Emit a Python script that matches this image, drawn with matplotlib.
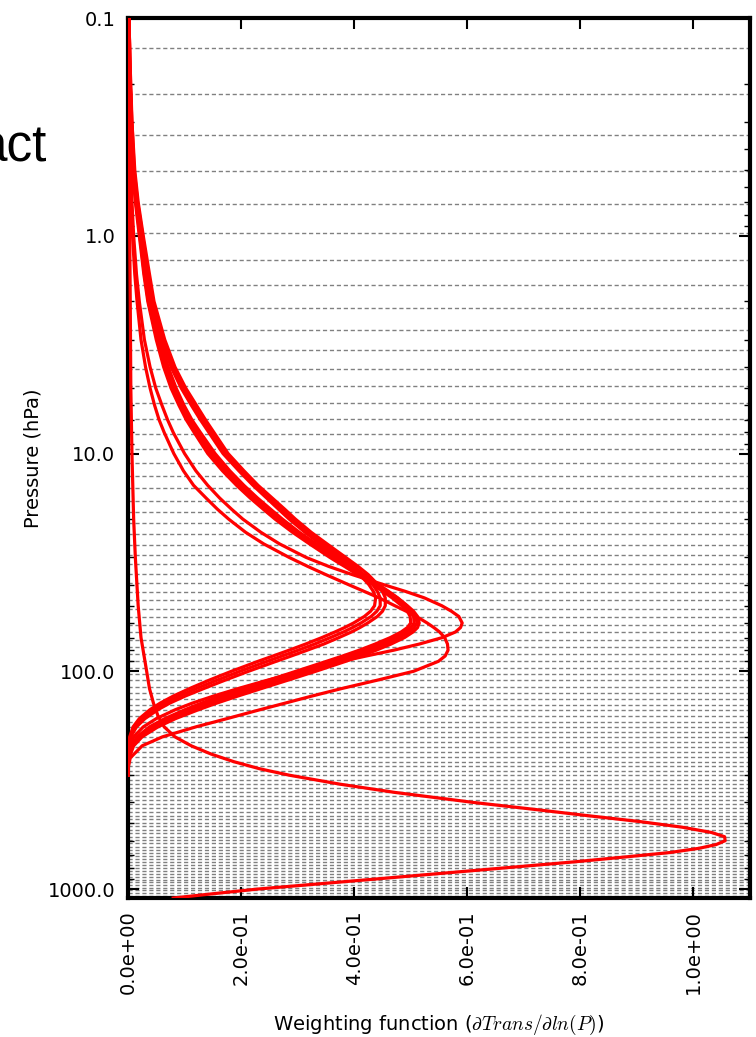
import numpy as np
import matplotlib
matplotlib.use('Agg')
import matplotlib.pyplot as plt
from matplotlib.ticker import NullFormatter

# model pressure levels (hPa) drawn as dashed lines
levels = [0.1370, 0.2244, 0.3454, 0.5064, 0.7140, 0.9753, 1.2972, 1.6872, 2.1526, 2.7009,
          3.3398, 4.0770, 4.9204, 5.8776, 6.9567, 8.1655, 9.5119, 11.0038, 12.6492, 14.4559,
          16.4318, 18.5847, 20.9224, 23.4526, 26.1829, 29.1210, 32.2744, 35.6505, 39.2566,
          43.1001, 47.1882, 51.5278, 56.1260, 60.9895, 66.1253, 71.5398, 77.2396, 83.2310,
          89.5204, 96.1138, 103.0172, 110.2366, 117.7775, 125.6456, 133.8462, 142.3848,
          151.2664, 160.4959, 170.0784, 180.0183, 190.3203, 200.9887, 212.0277, 223.4415,
          235.2338, 247.4085, 259.9691, 272.9191, 286.2617, 300.0000, 314.1369, 328.6753,
          343.6176, 358.9665, 374.7241, 390.8926, 407.4738, 424.4698, 441.8819, 459.7118,
          477.9607, 496.6298, 515.7200, 535.2322, 555.1669, 575.5248, 596.3062, 617.5112,
          639.1398, 661.1920, 683.6673, 706.5654, 729.8857, 753.6275, 777.7897, 802.3714,
          827.3713, 852.7880, 878.6201, 904.8659, 931.5236, 958.5911, 986.0666, 1013.9476,
          1042.2319, 1070.9170]

# pressures for the upper-level channels
p_upper = [0.1, 0.15, 0.2, 0.3, 0.5, 0.7, 1, 1.5, 2, 3, 4, 5, 6, 7, 8, 10, 12, 14, 16, 18,
           20, 23, 26, 30, 33, 36, 40, 43, 46, 50, 53, 56, 60, 63, 66, 70, 75, 80, 85, 90,
           100, 110, 120, 130, 140, 150, 165, 180, 200, 220, 250, 280, 300]

wf_b1 = [0.002, 0.003, 0.004, 0.006, 0.010, 0.016, 0.025, 0.034, 0.042, 0.059, 0.076, 0.094,
         0.112, 0.128, 0.143, 0.168, 0.196, 0.221, 0.245, 0.266, 0.285, 0.313, 0.340, 0.372,
         0.394, 0.410, 0.426, 0.434, 0.438, 0.436, 0.429, 0.418, 0.399, 0.383, 0.366, 0.343,
         0.314, 0.285, 0.257, 0.230, 0.183, 0.143, 0.109, 0.080, 0.057, 0.039, 0.020, 0.009,
         0.003, 0.001, 0.0, 0.0, 0.0]
wf_b2 = [0.002, 0.003, 0.004, 0.007, 0.011, 0.017, 0.026, 0.036, 0.044, 0.062, 0.079, 0.098,
         0.116, 0.132, 0.147, 0.172, 0.200, 0.225, 0.250, 0.271, 0.290, 0.318, 0.345, 0.378,
         0.400, 0.417, 0.433, 0.441, 0.446, 0.446, 0.440, 0.430, 0.412, 0.397, 0.381, 0.358,
         0.330, 0.301, 0.273, 0.246, 0.198, 0.157, 0.121, 0.090, 0.065, 0.046, 0.025, 0.012,
         0.004, 0.001, 0.0, 0.0, 0.0]
wf_b3 = [0.002, 0.003, 0.005, 0.007, 0.012, 0.018, 0.027, 0.038, 0.046, 0.065, 0.083, 0.102,
         0.121, 0.137, 0.152, 0.177, 0.205, 0.230, 0.255, 0.277, 0.296, 0.324, 0.352, 0.385,
         0.407, 0.425, 0.442, 0.450, 0.455, 0.455, 0.450, 0.441, 0.424, 0.410, 0.395, 0.373,
         0.346, 0.317, 0.289, 0.262, 0.213, 0.171, 0.134, 0.101, 0.074, 0.053, 0.030, 0.015,
         0.005, 0.001, 0.0, 0.0, 0.0]
wf_c1 = [0.002, 0.002, 0.003, 0.005, 0.008, 0.013, 0.020, 0.028, 0.035, 0.050, 0.063, 0.076,
         0.090, 0.103, 0.117, 0.141, 0.167, 0.192, 0.216, 0.239, 0.260, 0.291, 0.321, 0.357,
         0.383, 0.406, 0.433, 0.451, 0.467, 0.484, 0.494, 0.499, 0.500, 0.494, 0.483, 0.464,
         0.437, 0.409, 0.380, 0.351, 0.297, 0.248, 0.203, 0.164, 0.130, 0.101, 0.065, 0.038,
         0.016, 0.005, 0.001, 0.0, 0.0]
wf_c2 = [0.002, 0.002, 0.003, 0.005, 0.009, 0.014, 0.021, 0.029, 0.036, 0.052, 0.066, 0.079,
         0.093, 0.107, 0.121, 0.146, 0.172, 0.197, 0.221, 0.244, 0.265, 0.296, 0.326, 0.362,
         0.388, 0.411, 0.438, 0.456, 0.472, 0.489, 0.499, 0.505, 0.506, 0.500, 0.490, 0.472,
         0.446, 0.418, 0.390, 0.362, 0.308, 0.259, 0.214, 0.174, 0.139, 0.109, 0.071, 0.043,
         0.019, 0.007, 0.001, 0.0, 0.0]
wf_c3 = [0.002, 0.003, 0.004, 0.006, 0.010, 0.015, 0.022, 0.030, 0.038, 0.054, 0.068, 0.082,
         0.096, 0.110, 0.124, 0.150, 0.176, 0.201, 0.225, 0.248, 0.269, 0.300, 0.330, 0.366,
         0.392, 0.415, 0.442, 0.460, 0.476, 0.493, 0.503, 0.509, 0.511, 0.506, 0.497, 0.480,
         0.455, 0.428, 0.400, 0.372, 0.318, 0.268, 0.223, 0.182, 0.146, 0.115, 0.076, 0.047,
         0.021, 0.008, 0.001, 0.0, 0.0]
wf_c4 = [0.002, 0.003, 0.004, 0.006, 0.010, 0.016, 0.023, 0.032, 0.040, 0.056, 0.071, 0.085,
         0.099, 0.113, 0.128, 0.154, 0.180, 0.205, 0.229, 0.252, 0.273, 0.303, 0.333, 0.369,
         0.394, 0.417, 0.443, 0.461, 0.477, 0.494, 0.505, 0.512, 0.515, 0.512, 0.504, 0.489,
         0.465, 0.439, 0.412, 0.385, 0.332, 0.282, 0.236, 0.194, 0.157, 0.125, 0.084, 0.053,
         0.025, 0.010, 0.002, 0.0, 0.0]
wf_d = [0.001, 0.001, 0.002, 0.003, 0.005, 0.007, 0.010, 0.015, 0.020, 0.029, 0.039, 0.049,
        0.060, 0.070, 0.080, 0.100, 0.120, 0.141, 0.162, 0.183, 0.203, 0.235, 0.268, 0.315,
        0.355, 0.397, 0.452, 0.491, 0.524, 0.555, 0.572, 0.585, 0.591, 0.588, 0.579, 0.556,
        0.515, 0.470, 0.422, 0.378, 0.305, 0.246, 0.195, 0.151, 0.114, 0.084, 0.050, 0.027,
        0.010, 0.003, 0.0, 0.0, 0.0]
wf_e = [0.001, 0.001, 0.001, 0.002, 0.004, 0.006, 0.008, 0.012, 0.016, 0.023, 0.031, 0.039,
        0.047, 0.055, 0.064, 0.081, 0.098, 0.116, 0.138, 0.158, 0.178, 0.208, 0.240, 0.285,
        0.318, 0.350, 0.390, 0.418, 0.444, 0.472, 0.492, 0.510, 0.529, 0.541, 0.551, 0.560,
        0.565, 0.566, 0.561, 0.549, 0.505, 0.440, 0.378, 0.325, 0.278, 0.234, 0.175, 0.120,
        0.061, 0.025, 0.004, 0.0, 0.0]

# lower tropospheric channel
p_lower = [0.1, 0.2, 0.5, 1, 2, 5, 10, 20, 30, 50, 70, 100, 120, 140, 160, 180, 200, 220,
           240, 260, 280, 300, 330, 360, 400, 430, 460, 490, 520, 550, 575, 600, 625, 650,
           680, 710, 750, 800, 850, 900, 950, 1000, 1050, 1100]
wf_low = [0.0, 0.001, 0.002, 0.003, 0.004, 0.005, 0.007, 0.010, 0.013, 0.018, 0.023, 0.033,
          0.038, 0.045, 0.053, 0.064, 0.083, 0.112, 0.147, 0.187, 0.232, 0.285, 0.375, 0.472,
          0.610, 0.716, 0.812, 0.905, 0.980, 1.032, 1.055, 1.056, 1.040, 1.010, 0.958, 0.885,
          0.790, 0.665, 0.548, 0.437, 0.331, 0.230, 0.152, 0.080]

xticks = [0.0, 0.2, 0.4, 0.6, 0.8, 1.0]
yticks = [0.1, 1, 10, 100, 1000]
ytick_labels = ['0.1', '1.0', '10.0', '100.0', '1000.0']

plt.rcParams['mathtext.fontset'] = 'cm'

fig = plt.figure(figsize=(7.56, 10.37), dpi=100)
ax = fig.add_axes([0.1693, 0.1340, 0.8228, 0.8486])

for lev in levels:
    ax.axhline(lev, color='gray', ls='--', lw=1, dashes=(3, 2), zorder=1)

for wf in [wf_b1, wf_b2, wf_b3, wf_c1, wf_c2, wf_c3, wf_c4, wf_d, wf_e]:
    ax.plot(wf, p_upper, color='red', lw=2.3, zorder=3)
ax.plot(wf_low, p_lower, color='red', lw=2.3, zorder=3)

ax.set_yscale('log')
ax.set_ylim(1100, 0.1)
ax.set_xlim(0, 1.1)
ax.set_yticks(yticks)
ax.set_yticklabels(ytick_labels)
ax.yaxis.set_minor_formatter(NullFormatter())
ax.set_xticks(xticks)
ax.set_xticklabels(['%.1e' % v for v in xticks], rotation=90)

ax.tick_params(which='both', direction='in', top=True, right=True)
ax.tick_params(which='major', length=8, width=1.5, labelsize=14, pad=9)
ax.tick_params(which='minor', length=4, width=1)
for s in ax.spines.values():
    s.set_linewidth(3)

ax.set_ylabel('Pressure (hPa)', fontsize=14, labelpad=4)
ax.set_xlabel(r'Weighting function ($\partial Trans/\partial ln(P)$)', fontsize=14, labelpad=13)

# leftover of the slide title
fig.text(0.063, 1 - 162 / 1037, 'act', family='Liberation Sans', fontsize=37,
         ha='right', va='baseline')

fig.savefig('out.png', dpi=100)
